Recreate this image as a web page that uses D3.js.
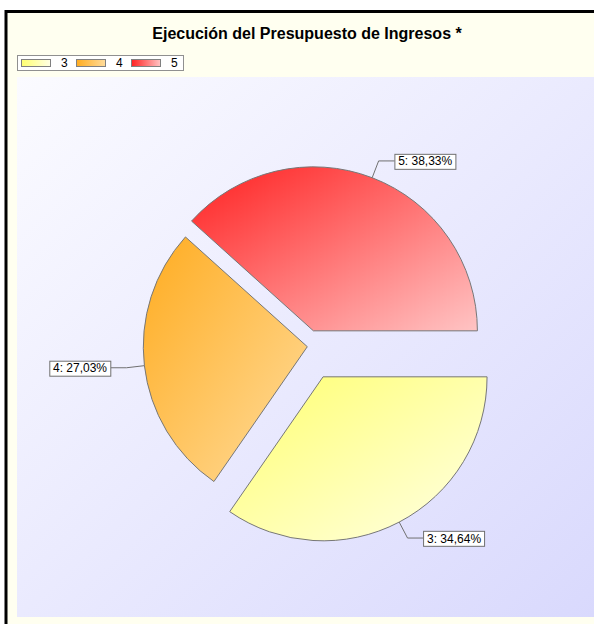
<!DOCTYPE html>
<html>
<head>
<meta charset="utf-8">
<style>
  body { margin: 0; background: #fff; }
  svg { display: block; font-family: Arial, "Liberation Sans", sans-serif; }
</style>
<title>Ejecución del Presupuesto de Ingresos</title>
</head>
<body>
<script src="https://cdn.jsdelivr.net/npm/d3@7"></script>
<script>

// data
var categories = ["3", "4", "5"];
var values = [34.64, 27.03, 38.33];
var title = "Ejecución del Presupuesto de Ingresos *";

// styling
var colorsFrom = { "3": "#ffff70", "4": "#ffac20", "5": "#ff2020" };
var colorsTo   = { "3": "#ffffe6", "4": "#ffdc9c", "5": "#ffc4c4" };
var explode    = { "3": 34, "4": 0, "5": 17 };

var W = 594, H = 624;
var cx = 307.3, cy = 346.7, R = 164;

var locale = d3.formatLocale({ decimal: ",", thousands: ".", grouping: [3], currency: ["", ""] });
var pct = locale.format(".2f");

var data = categories.map(function(c, i) { return { cat: c, value: values[i] }; });

var svg = d3.select("body").append("svg")
  .attr("width", W)
  .attr("height", H);

var defs = svg.append("defs");

var bg = defs.append("linearGradient").attr("id", "bg")
  .attr("x1", 0).attr("y1", 0).attr("x2", 1).attr("y2", 1);
bg.append("stop").attr("offset", 0).attr("stop-color", "#fbfbff");
bg.append("stop").attr("offset", 1).attr("stop-color", "#d9d9fd");

data.forEach(function(d) {
  var g = defs.append("linearGradient").attr("id", "g" + d.cat)
    .attr("x1", 0).attr("y1", 0).attr("x2", 1).attr("y2", 1);
  g.append("stop").attr("offset", 0).attr("stop-color", colorsFrom[d.cat]);
  g.append("stop").attr("offset", 1).attr("stop-color", colorsTo[d.cat]);
  var l = defs.append("linearGradient").attr("id", "l" + d.cat)
    .attr("x1", 0).attr("y1", 0).attr("x2", 1).attr("y2", 0);
  l.append("stop").attr("offset", 0).attr("stop-color", colorsFrom[d.cat]);
  l.append("stop").attr("offset", 1).attr("stop-color", colorsTo[d.cat]);
});

// outer frame
svg.append("rect")
  .attr("x", 6).attr("y", 11.5)
  .attr("width", W + 20).attr("height", H + 20)
  .attr("fill", "#fffff0")
  .attr("stroke", "#000")
  .attr("stroke-width", 3);

// plot area
svg.append("rect")
  .attr("x", 17).attr("y", 77)
  .attr("width", W - 17).attr("height", 540)
  .attr("fill", "url(#bg)");

// title
svg.append("text")
  .attr("x", 307).attr("y", 39)
  .attr("text-anchor", "middle")
  .style("font-size", "16px")
  .style("font-weight", "bold")
  .text(title);

// legend
var legend = svg.append("g").attr("transform", "translate(17,55)");
legend.append("rect")
  .attr("x", 0.5).attr("y", 0.5)
  .attr("width", 166).attr("height", 15)
  .attr("fill", "#fff")
  .attr("stroke", "#909090");

var item = legend.selectAll("g.item")
  .data(data)
  .enter().append("g")
  .attr("class", "item")
  .attr("transform", function(d, i) { return "translate(" + (4 + i * 55) + ",0)"; });

item.append("rect")
  .attr("x", 0.5).attr("y", 4.5)
  .attr("width", 29).attr("height", 7)
  .attr("fill", function(d) { return "url(#l" + d.cat + ")"; })
  .attr("stroke", "#808080");

item.append("text")
  .attr("x", 40).attr("y", 12)
  .style("font-size", "12px")
  .text(function(d) { return d.cat; });

// pie
var pie = d3.pie()
  .sort(null)
  .value(function(d) { return d.value; })
  .startAngle(Math.PI / 2)
  .endAngle(Math.PI / 2 + 2 * Math.PI);

var arc = d3.arc().innerRadius(0).outerRadius(R);

var total = d3.sum(values);
var arcs = pie(data);

var slice = svg.selectAll("g.slice")
  .data(arcs)
  .enter().append("g")
  .attr("class", "slice")
  .attr("transform", function(d) {
    var a = (d.startAngle + d.endAngle) / 2;
    var off = explode[d.data.cat];
    return "translate(" + (cx + off * Math.sin(a)) + "," + (cy - off * Math.cos(a)) + ")";
  });

slice.append("path")
  .attr("d", arc)
  .attr("fill", function(d) { return "url(#g" + d.data.cat + ")"; })
  .attr("stroke", "#777")
  .attr("stroke-width", 1);

// labels with leader lines
slice.each(function(d) {
  var g = d3.select(this);
  var a = (d.startAngle + d.endAngle) / 2;
  var s = Math.sin(a), c = -Math.cos(a);
  var side = s >= 0 ? 1 : -1;
  var p0 = [R * s, R * c];
  var p1 = [(R + 18) * s, (R + 18) * c];
  var p2 = [p1[0] + side * 16, p1[1]];

  g.append("polyline")
    .attr("points", [p0, p1, p2].map(function(p) { return p.join(","); }).join(" "))
    .attr("fill", "none")
    .attr("stroke", "#707070")
    .attr("stroke-width", 1);

  var txt = d.data.cat + ": " + pct(d.data.value / total * 100) + "%";
  var label = g.append("g");
  var t = label.append("text")
    .style("font-size", "12px")
    .attr("y", p2[1] + 4.5)
    .text(txt);
  var tw = t.node().getComputedTextLength();
  var bw = tw + 7;
  var bx = side > 0 ? p2[0] : p2[0] - bw;
  label.insert("rect", "text")
    .attr("x", Math.round(bx) + 0.5)
    .attr("y", Math.round(p2[1] - 7.5) + 0.5)
    .attr("width", Math.round(bw))
    .attr("height", 15)
    .attr("fill", "#fff")
    .attr("stroke", "#707070");
  t.attr("x", bx + 3.5);
});

</script>
</body>
</html>
